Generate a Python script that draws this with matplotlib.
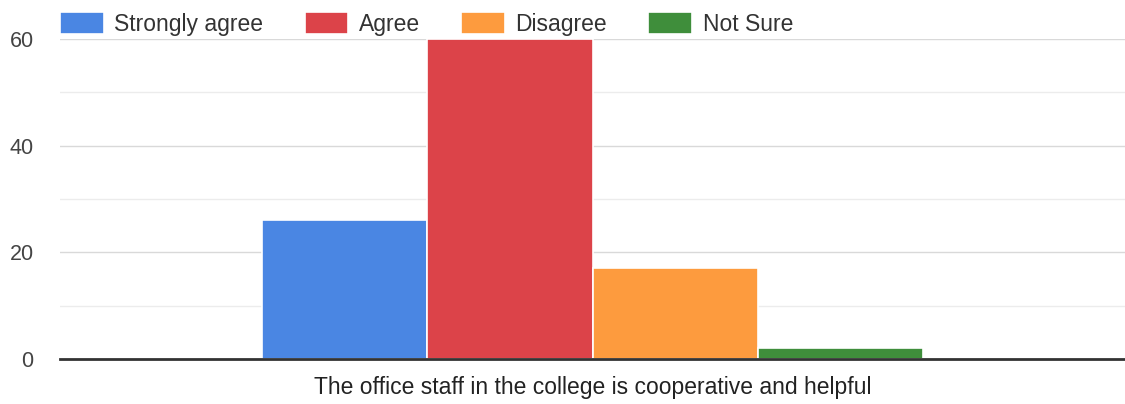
import matplotlib
matplotlib.use("Agg")
import matplotlib.pyplot as plt
from matplotlib.ticker import MultipleLocator

categories = ["The office staff in the college is cooperative and helpful"]
series = ["Strongly agree", "Agree", "Disagree", "Not Sure"]
values = [26, 60, 17, 2]
colors = ["#4a86e3", "#dc4349", "#fd9b3e", "#3f8e3b"]
yticks = [0, 20, 40, 60]

plt.rcParams['font.family'] = ['Liberation Sans', 'DejaVu Sans']
fig = plt.figure(figsize=(11.25, 4.04), dpi=100)
ax = fig.add_axes([60/1125, 1-359/404, 1-60/1125, (359-39)/404])

w = 0.155
n = len(series)
for i, (s, v, c) in enumerate(zip(series, values, colors)):
    ax.bar(0 + (i - (n-1)/2) * w, v, width=w, color=c, label=s,
           edgecolor="white", linewidth=1.2, zorder=3)

ax.set_xlim(-0.5, 0.5)
ax.set_ylim(0, 60)
ax.set_yticks(yticks)
ax.yaxis.set_minor_locator(MultipleLocator(10))
ax.set_xticks([0])
ax.set_xticklabels(categories)
ax.grid(axis='y', which='major', color='#d9d9d9', linewidth=1, zorder=0)
ax.grid(axis='y', which='minor', color='#ececec', linewidth=1, zorder=0)
for sp in ['top', 'right', 'left']:
    ax.spines[sp].set_visible(False)
ax.spines['bottom'].set_color('#333333')
ax.spines['bottom'].set_linewidth(2)
ax.spines['bottom'].set_zorder(4)
ax.tick_params(axis='y', which='both', length=0, labelsize=15.5, colors='#444444', pad=19)
ax.tick_params(axis='x', which='both', length=0, labelsize=16.5, colors='#222222', pad=12)

leg = fig.legend(loc='center left', bbox_to_anchor=(60/1125, 1-24/404), ncol=4,
                 frameon=False, fontsize=16.5, handlelength=1.9, handleheight=1.1,
                 handletextpad=0.47, columnspacing=1.8, borderaxespad=0, borderpad=0)
for t in leg.get_texts():
    t.set_color('#333333')

fig.savefig("out.png", dpi=100)
